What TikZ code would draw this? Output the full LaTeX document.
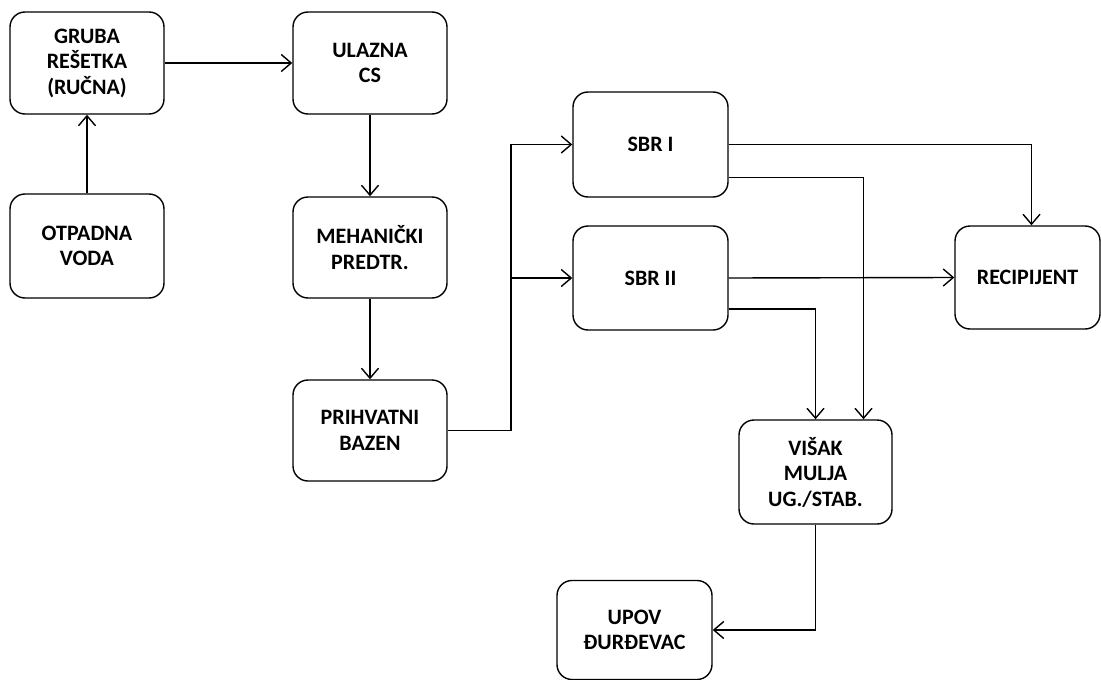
\documentclass[tikz,border=0pt]{standalone}
\usepackage{fontspec}
\setmainfont{Carlito}
\usetikzlibrary{arrows.meta,calc}
\begin{document}
\begin{tikzpicture}[x=1pt,y=-1pt,
  box/.style={draw, line width=1.4pt, rounded corners=15pt, align=center,
    font=\fontsize{22}{25.5}\selectfont\bfseries, inner sep=0pt},
  arr/.style={line width=1.4pt, -{Straight Barb[length=10pt,width=17pt,line width=1.4pt]}}]
\useasboundingbox (0,0) rectangle (1101,680);
\node[box, minimum width=154pt, minimum height=102pt] (grub) at (87,63) {GRUBA\\REŠETKA\\(RUČNA)};
\node[box, minimum width=154pt, minimum height=102pt] (ulaz) at (370,63) {ULAZNA\\CS};
\node[box, minimum width=154pt, minimum height=104pt] (otp) at (87,246) {OTPADNA\\VODA};
\node[box, minimum width=154pt, minimum height=101pt] (meh) at (370,247.5) {MEHANIČKI\\PREDTR.};
\node[box, minimum width=154pt, minimum height=101pt] (prih) at (370,430.5) {PRIHVATNI\\BAZEN};
\node[box, minimum width=155pt, minimum height=105pt] (sbr1) at (650.5,144.5) {SBR I};
\node[box, minimum width=155pt, minimum height=104pt] (sbr2) at (650.5,278) {SBR II};
\node[box, minimum width=145pt, minimum height=103pt] (rec) at (1027.5,277.5) {RECIPIJENT};
\node[box, minimum width=153pt, minimum height=104pt] (visak) at (815.5,472) {VIŠAK\\MULJA\\UG./STAB.};
\node[box, minimum width=155pt, minimum height=99pt] (upov) at (634.5,630) {UPOV\\ĐURĐEVAC};
\coordinate (j) at (511,278);
\draw[arr] (grub.east) -- (ulaz.west);
\draw[arr] (otp.north) -- (grub.south);
\draw[arr] (ulaz.south) -- (meh.north);
\draw[arr] (meh.south) -- (prih.north);
\draw[arr] (prih.east) -| (j) |- (sbr1.west);
\draw[arr] (j) -- (sbr2.west);
\draw[arr] (sbr1.east) -| ($(rec.north)+(4,0)$);
\draw[arr] ($(sbr1.east)+(0,33)$) -| ($(visak.north)+(48,0)$);
\draw[arr] (sbr2.east) -- (rec.west);
\draw[arr] ($(sbr2.east)+(0,31)$) -| (visak.north);
\draw[arr] (visak.south) |- (upov.east);
\end{tikzpicture}
\end{document}
